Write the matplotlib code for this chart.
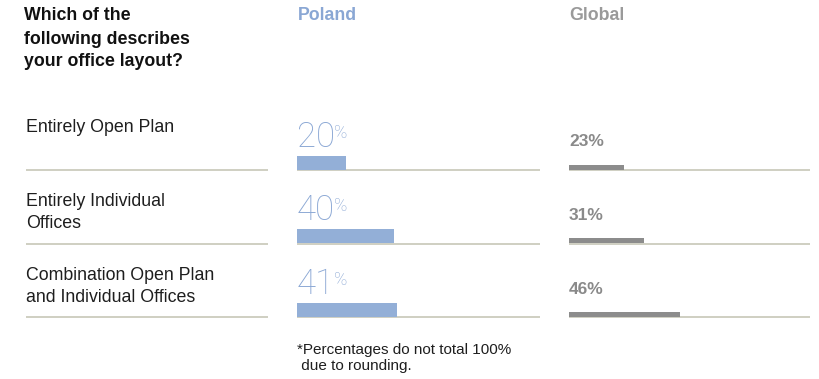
import matplotlib.pyplot as plt

plt.rcParams["font.family"] = ["Liberation Sans", "DejaVu Sans"]

QUESTION = ["Which of the", "following describes", "your office layout?"]
CATEGORIES = [
    ["Entirely Open Plan"],
    ["Entirely Individual", "Offices"],
    ["Combination Open Plan", "and Individual Offices"],
]
POLAND = [20, 40, 41]
GLOBAL = [23, 31, 46]
FOOTNOTE = ["*Percentages do not total 100%", " due to rounding."]

BLUE = "#93afd7"
BLUE_TEXT = "#8aa7d4"
GREY_BAR = "#8c8c8c"
GREY_TEXT = "#8a8a8a"
RULE = "#cbcbbd"
DARK = "#1e1e1e"

W, H = 820, 379
ROW_BASE = 170      # pixel y of first row's baseline rule
ROW_STEP = 73.5


def row_y(i):
    return ROW_BASE + i * ROW_STEP


fig = plt.figure(figsize=(W / 100, H / 100), dpi=100)
fig.patch.set_facecolor("white")

# overlay axes in pixel coords for text and rules
ov = fig.add_axes([0, 0, 1, 1])
ov.set_xlim(0, W)
ov.set_ylim(H, 0)
ov.axis("off")

# data panels: x in percent, y in pixels
ax_pl = fig.add_axes([297 / W, 0, 243 / W, 1])
ax_gl = fig.add_axes([569 / W, 0, 241 / W, 1])
for ax in (ax_pl, ax_gl):
    ax.set_xlim(0, 100)
    ax.set_ylim(H, 0)
    ax.axis("off")
    ax.patch.set_alpha(0)

# headers
for k, line in enumerate(QUESTION):
    ov.text(24, 16 + k * 23, line, fontsize=12.8, fontweight="bold",
            color="#111111", va="center", ha="left")
ov.text(298, 16, "Poland", fontsize=12.8, fontweight="bold", color=BLUE_TEXT,
        va="center", ha="left")
ov.text(569, 16, "Global", fontsize=12.8, fontweight="bold", color="#9a9a9a",
        va="center", ha="left")

for i, (cat, pl, gl) in enumerate(zip(CATEGORIES, POLAND, GLOBAL)):
    base = row_y(i)
    # category label
    for k, line in enumerate(cat):
        ov.text(26, base - 42 + k * 22, line, fontsize=12.8, color=DARK,
                va="center", ha="left")
    # rules
    ov.plot([26, 268], [base, base], color=RULE, lw=1.3, solid_capstyle="butt")
    ax_pl.plot([0, 100], [base, base], color=RULE, lw=1.3, solid_capstyle="butt")
    ax_gl.plot([0, 100], [base, base], color=RULE, lw=1.3, solid_capstyle="butt")

    # Poland bar + big number
    ax_pl.barh(base - 7.5, pl, height=14, left=0, color=BLUE, zorder=3)
    num = ax_pl.text(0, base - 23, f"{pl}", fontsize=25, fontweight="light",
                     family=["Roboto", "DejaVu Sans"], color=BLUE_TEXT,
                     ha="left", va="baseline")
    ax_pl.annotate("%", xy=(1, 1), xycoords=num, xytext=(-0.6, -2.5),
                   textcoords="offset points", fontsize=13,
                   fontweight="light", family=["Roboto", "DejaVu Sans"],
                   color=BLUE_TEXT, ha="left", va="top")

    # Global bar + label
    ax_gl.barh(base - 3, gl, height=5, left=0, color=GREY_BAR, zorder=3)
    ax_gl.text(0, base - 28, f"{gl}%", fontsize=12.5, fontweight="bold",
               color=GREY_TEXT, ha="left", va="center")

for k, line in enumerate(FOOTNOTE):
    ov.text(297, 350 + k * 16, line, fontsize=11, color=DARK,
            va="center", ha="left")

fig.savefig("out.png", dpi=100, facecolor="white")
